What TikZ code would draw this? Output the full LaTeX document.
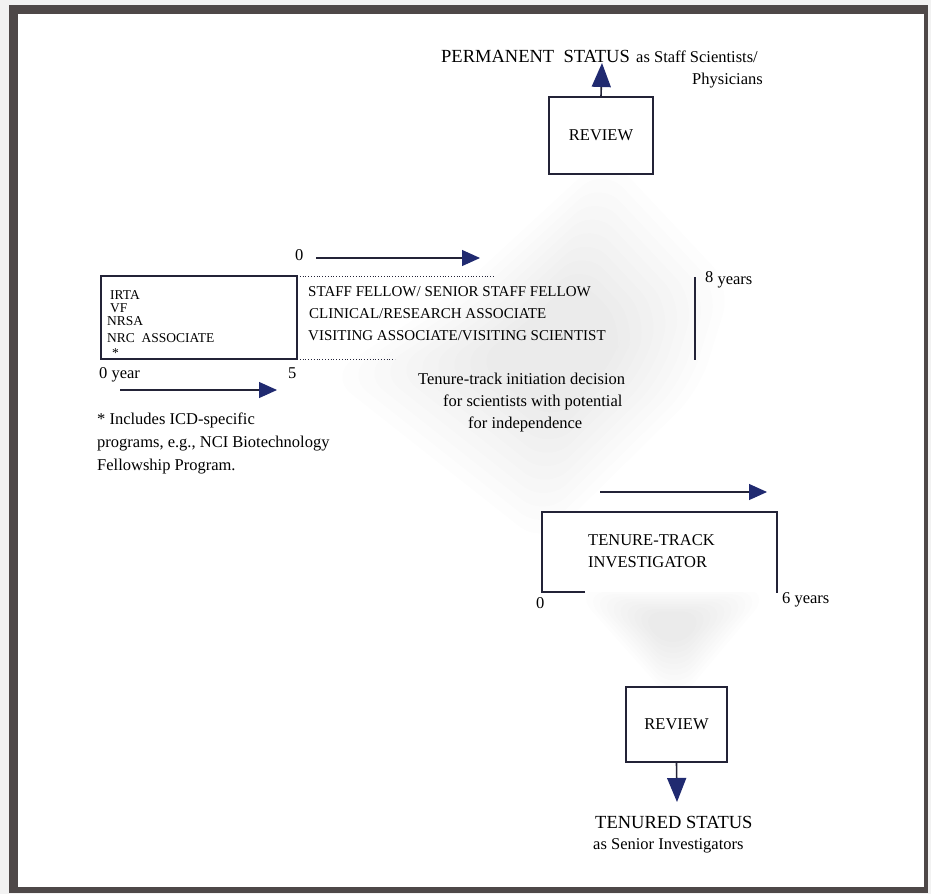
\documentclass[tikz,border=0pt]{standalone}
\usepackage{fontspec}
\setmainfont{Liberation Serif}
\usetikzlibrary{arrows.meta}
\definecolor{navy}{RGB}{32,42,112}
\definecolor{lin}{RGB}{35,35,55}
\definecolor{framec}{RGB}{78,72,72}
\begin{document}
\begin{tikzpicture}[x=1pt,y=-1pt,
  lbl/.style={inner sep=0pt, anchor=base west},
  fA/.style={font=\fontsize{18.5}{20}\selectfont},
  fB/.style={font=\fontsize{16.5}{18}\selectfont},
  fC/.style={font=\fontsize{15}{17}\selectfont},
  fD/.style={font=\fontsize{13.5}{14}\selectfont},
  boxc/.style={draw=lin, line width=1.6pt, inner sep=0pt, fill=white},
  flowh/.style={draw=lin, line width=1.1pt, -{Triangle[length=18pt,width=16pt,color=navy]}},
  flowv/.style={draw=lin, line width=1.6pt, -{Triangle[length=24pt,width=19pt,color=navy]}},
  blob/.style={fill=black, opacity=0.0065, rounded corners=30pt}
]
\useasboundingbox (0,0) rectangle (931,894);
% frame
\fill[gray!10] (0,0) rectangle (931,894);
\fill[framec] (9,5) rectangle (928,893);
\fill[white] (18,14) rectangle (924,887);
% soft grey background shapes
\foreach \s in {1.16,1.08,1.00,0.92,0.84,0.76,0.68,0.60,0.52,0.44}{
  \fill[blob, scale around={\s:(560,350)}] (600,180) -- (708,295) -- (680,385) -- (545,518) -- (360,372) -- (470,300) -- cycle;
  \fill[blob, scale around={\s:(672,625)}] (586,594) -- (759,594) -- (675,694) -- cycle;
}
% top review and permanent status
\node[boxc, minimum width=104pt, minimum height=77pt, fB] (rev1) at (601,135.5) {REVIEW};
\node[lbl, fA] (perm) at (441,62) {PERMANENT\ \ STATUS};
\node[lbl, fB] (permb) at (636,62) {as Staff Scientists/};
\node[inner sep=0pt, anchor=base east, fB] (phys) at (763,84) {Physicians};
\coordinate (ptip) at (602,63);
\draw[flowv] (rev1.north) -- (ptip);
% left box
\draw[lin, line width=1.6pt] (297,276) -- (101,276) -- (101,359) -- (297,359) -- cycle;
\node[lbl, fD] (irta) at (110,299) {IRTA};
\node[lbl, fD] (vf) at (110,312) {VF};
\node[lbl, fD] (nrsa) at (107,325) {NRSA};
\node[lbl, fD] (nrc) at (107,342) {NRC\ \ ASSOCIATE};
\node[lbl, fD] (star) at (112,357) {*};
\node[lbl, fB] (zy) at (99,378) {0 year};
\node[lbl, fB] (five) at (288,378) {5};
\coordinate (a1s) at (120,390);
\coordinate (a1e) at (277,390);
\draw[flowh] (a1s) -- (a1e);
\node[lbl, fB] (fn1) at (97,424) {* Includes ICD-specific};
\node[lbl, fB] (fn2) at (97,447) {programs, e.g., NCI Biotechnology};
\node[lbl, fB] (fn3) at (97,470) {Fellowship Program.};
% staff fellow block
\node[lbl, fB] (z0) at (295,260) {0};
\coordinate (a2s) at (316,258);
\coordinate (a2e) at (480,258);
\draw[flowh] (a2s) -- (a2e);
\draw[lin, line width=0.8pt, dotted] (297,276) -- (495,276);
\draw[lin, line width=0.8pt, dotted] (297,359) -- (395,359);
\node[lbl, fC] (sf) at (308,296) {STAFF FELLOW/ SENIOR STAFF FELLOW};
\node[lbl, fC] (cra) at (309,318) {CLINICAL/RESEARCH ASSOCIATE};
\node[lbl, fC] (vas) at (308,340) {VISITING ASSOCIATE/VISITING SCIENTIST};
\draw[lin, line width=1.5pt] (695,277) -- (695,360);
\node[lbl, fB] (eight) at (705,284) {\raisebox{2pt}{8}\ years};
\node[lbl, fB] (tt1) at (418,384) {Tenure-track initiation decision};
\node[lbl, fB] (tt2) at (443,406) {for scientists with potential};
\node[lbl, fB] (tt3) at (468,428) {for independence};
% tenure-track investigator
\coordinate (a3s) at (600,492);
\coordinate (a3e) at (767,492);
\draw[flowh] (a3s) -- (a3e);
\fill[white] (542,512) rectangle (777,592);
\draw[lin, line width=1.6pt] (585,592) -- (542,592) -- (542,512) -- (777,512) -- (777,593);
\node[lbl, fB] (tti1) at (588,545) {TENURE-TRACK};
\node[lbl, fB] (tti2) at (588,567) {INVESTIGATOR};
\node[lbl, fB] (z2) at (536,608) {0};
\node[lbl, fB] (six) at (782,603) {6 years};
% bottom review
\node[boxc, minimum width=101pt, minimum height=75pt, fB] (rev2) at (676.5,724.5) {REVIEW};
\coordinate (ttip) at (677,802);
\draw[flowv] (rev2.south) -- (ttip);
\node[lbl, fA] (tenured) at (595,828) {TENURED STATUS};
\node[lbl, fB] (senior) at (593,849) {as Senior Investigators};
\end{tikzpicture}
\end{document}
